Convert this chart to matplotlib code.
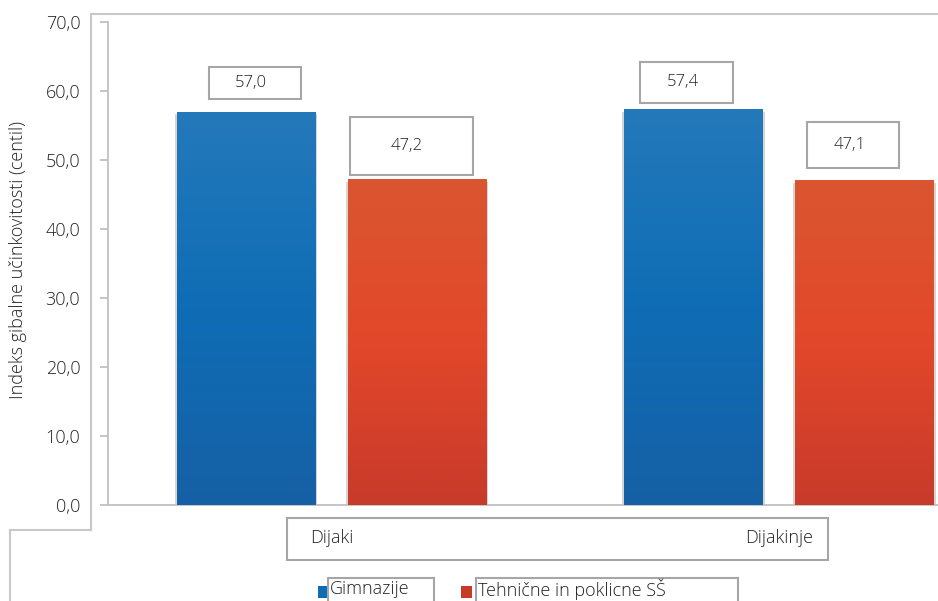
import matplotlib.pyplot as plt
import matplotlib.transforms as mtransforms
from matplotlib.patches import Rectangle
from matplotlib.lines import Line2D
from matplotlib.colors import LinearSegmentedColormap
import numpy as np

# podatki
skupine = ['Dijaki', 'Dijakinje']
serije = ['Gimnazije', 'Tehnične in poklicne SŠ']
gimnazije = [57.0, 57.4]
tehnicne = [47.2, 47.1]
yticks = [0, 10, 20, 30, 40, 50, 60, 70]

W, H = 938, 601
plt.rcParams['font.family'] = ['Open Sans', 'DejaVu Sans']

fig = plt.figure(figsize=(W / 100, H / 100), dpi=100)
ax = fig.add_axes([108 / W, (H - 505) / H, (938 - 108) / W, (505 - 22) / H])

txt_col = '#222222'
line_col = '#c0c0c0'
barve = [('#2479ba', '#0f6db5', '#1660a5'), ('#da5630', '#e2482a', '#c83a2a')]

x = np.arange(len(skupine))
sirina = 0.309
odmik = 0.191

ax.set_xlim(-0.5, 1.3555)
ax.set_ylim(0, 70)

idn = mtransforms.IdentityTransform()


def fy(y):
    return H - y


def gradient_bar(bar, stops):
    x0, y0 = bar.get_x(), bar.get_y()
    w, h = bar.get_width(), bar.get_height()
    cmap = LinearSegmentedColormap.from_list('g', list(stops))
    grad = np.linspace(0, 1, 256).reshape(-1, 1)
    im = ax.imshow(grad, cmap=cmap, extent=(x0, x0 + w, y0, y0 + h),
                   aspect='auto', zorder=3, origin='upper')
    im.set_clip_path(bar)


vrednosti = [gimnazije, tehnicne]
# okvirji nalepk: (dx, dy spodnjega roba nad vrhom, sirina, visina) v pikslih
okvirji = [[(9, 13, 92, 32), (-7, 6, 93, 41)],
           [(-6, 4, 123, 58), (-11, 12, 92, 46)]]

for i, vals in enumerate(vrednosti):
    pos = x + (-odmik if i == 0 else odmik)
    # senca
    ax.bar(pos, vals, sirina * 1.03, bottom=-0.4, color='#888888', alpha=0.35,
           zorder=1, linewidth=0)
    bars = ax.bar(pos, vals, sirina, color=barve[i][1], zorder=2, linewidth=0)
    for b in bars:
        gradient_bar(b, barve[i])
    ax.set_xlim(-0.5, 1.3555)
    ax.set_ylim(0, 70)
    for j, (p, v) in enumerate(zip(pos, vals)):
        px, py = ax.transData.transform((p, v))
        dx, dy, bw, bh = okvirji[i][j]
        cx = px + dx
        by = py + dy
        fig.add_artist(Rectangle((cx - bw / 2, by), bw, bh, transform=idn,
                                 facecolor='white', edgecolor='#a6a6a6', lw=1.5,
                                 zorder=5))
        fig.text((cx - 4) / W, (by + bh / 2) / H, f'{v:.1f}'.replace('.', ','),
                 ha='center', va='center', fontsize=12, color=txt_col, zorder=6,
                 fontweight='light')

# osi
for s in ['top', 'right']:
    ax.spines[s].set_visible(False)
ax.spines['left'].set_color(line_col)
ax.spines['bottom'].set_color(line_col)
ax.spines['left'].set_linewidth(1.3)
ax.spines['bottom'].set_linewidth(1.3)
ax.set_yticks(yticks)
ax.set_yticklabels([f'{t:.1f}'.replace('.', ',') for t in yticks],
                   fontweight='light')
ax.tick_params(axis='y', length=6, color=line_col, width=1.3, pad=14,
               labelsize=13, labelcolor=txt_col)
ax.set_xticks(x)
ax.set_xticklabels(skupine, fontweight='light')
ax.tick_params(axis='x', length=0, pad=17, labelsize=13, labelcolor=txt_col)
ax.set_ylabel('Indeks gibalne učinkovitosti (centil)', fontsize=13,
              color=txt_col, fontweight='light')
ax.yaxis.set_label_coords((27 - 108) / 830, 0.507)

# okvir kategorij
fig.add_artist(Rectangle((287, fy(560)), 541, 42, transform=idn, facecolor='none',
                         edgecolor='#a6a6a6', lw=1.5))

# zunanji okvir
for xs, ys in [([91, 91], [14, 530]), ([91, 938], [14, 14]),
               ([10, 91], [530, 530]), ([10, 10], [530, 601])]:
    fig.add_artist(Line2D(xs, [fy(v) for v in ys], transform=idn,
                          color='#c8c8c8', lw=1.5))

# legenda
leg = [(318, 328, 434, barve[0][1]), (461, 476, 738, barve[1][2])]
for (sx, bx0, bx1, c), ime in zip(leg, serije):
    fig.add_artist(Rectangle((sx, fy(598)), 11, 12, transform=idn,
                             facecolor=c, edgecolor='none'))
    fig.add_artist(Rectangle((bx0, fy(603)), bx1 - bx0, 25, transform=idn,
                             facecolor='none', edgecolor='#a6a6a6', lw=1.5))
    fig.text((bx0 + 2) / W, fy(589) / H, ime, ha='left', va='center',
             fontsize=13, color=txt_col, fontweight='light')

fig.savefig('out.png', dpi=100)
